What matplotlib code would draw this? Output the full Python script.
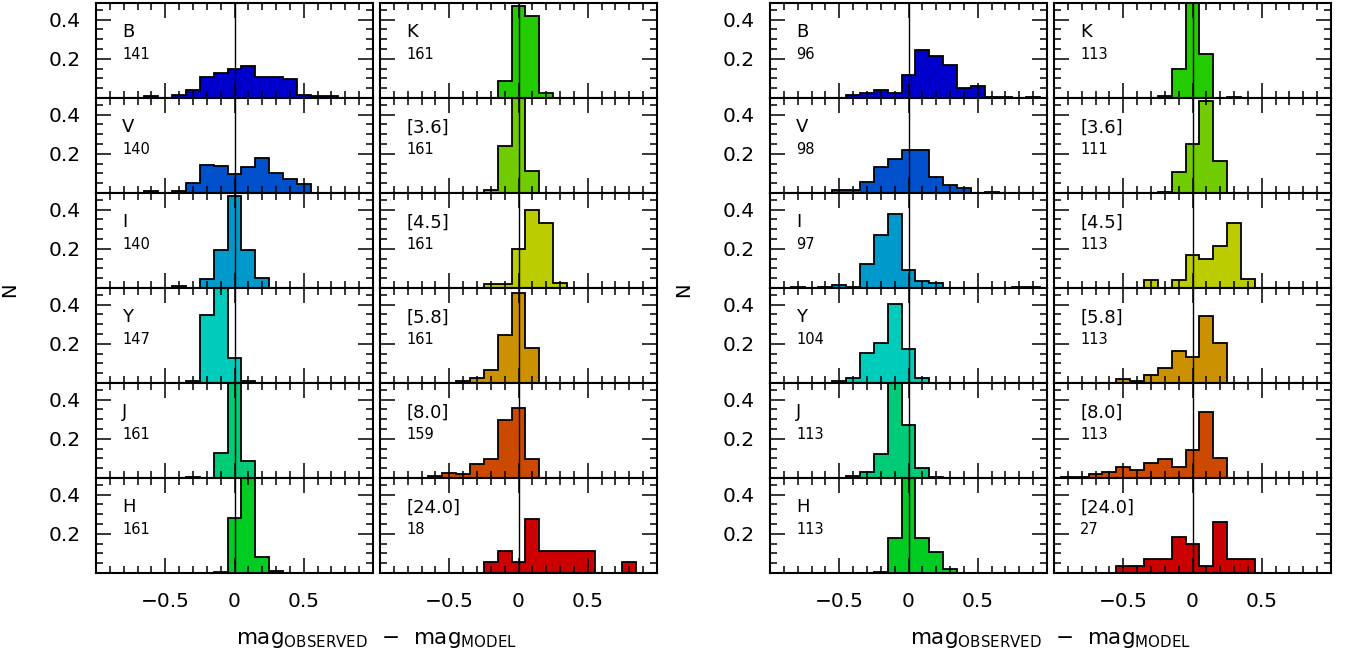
import numpy as np
import matplotlib.pyplot as plt
from matplotlib.ticker import MultipleLocator, FixedLocator, FixedFormatter

plt.rcParams['font.family'] = ['DejaVu Sans']
plt.rcParams['mathtext.fontset'] = 'custom'
plt.rcParams['mathtext.rm'] = 'DejaVu Sans'

# bins of 0.1 mag centred on -0.9 ... 0.9
edges = np.linspace(-0.95, 0.95, 20)

filters_left = ['B', 'V', 'I', 'Y', 'J', 'H']
filters_right = ['K', '[3.6]', '[4.5]', '[5.8]', '[8.0]', '[24.0]']
colors = ['#0000cc', '#0050cc', '#0099cc', '#00ccbb', '#00cc77', '#00cc22',
          '#22cc00', '#70cc00', '#bbcc00', '#cc9100', '#cc4a00', '#cc0000']

# sample 1 (left block): number of stars per filter
n1 = [141, 140, 140, 147, 161, 161, 161, 161, 161, 161, 159, 18]
# sample 2 (right block)
n2 = [96, 98, 97, 104, 113, 113, 113, 111, 113, 113, 113, 27]

# fraction per bin, bins -0.9 .. 0.9
s1_B = [0, 0, 0, .009, 0, .016, .041, .106, .126, .150, .165, .106, .106, .099, .016, .009, .009, 0, 0]
s1_V = [0, 0, 0, .010, 0, .010, .051, .145, .140, .096, .131, .181, .101, .069, .048, 0, 0, 0, 0]
s1_I = [0, 0, 0, 0, 0, .009, 0, .044, .195, .469, .195, .053, 0, 0, 0, 0, 0, 0, 0]
s1_Y = [0, 0, 0, 0, 0, 0, .009, .347, .500, .129, .009, 0, 0, 0, 0, 0, 0, 0, 0]
s1_J = [0, 0, 0, 0, 0, 0, .006, 0, .129, .770, .088, 0, 0, 0, 0, 0, 0, 0, 0]
s1_H = [0, 0, 0, 0, 0, 0, 0, 0, .006, .283, .620, .080, .012, 0, 0, 0, 0, 0, 0]
s1_K = [0, 0, 0, 0, 0, 0, 0, 0, .088, .470, .421, .028, 0, 0, 0, 0, 0, 0, 0]
s1_36 = [0, 0, 0, 0, 0, 0, 0, .014, .239, .620, .110, 0, 0, 0, 0, 0, 0, 0, 0]
s1_45 = [0, 0, 0, 0, 0, 0, 0, .018, .018, .200, .400, .333, .028, 0, 0, 0, 0, 0, 0]
s1_58 = [0, 0, 0, 0, 0, .011, .028, .065, .246, .457, .181, 0, 0, 0, 0, 0, 0, 0, 0]
s1_80 = [0, 0, 0, .009, .028, .018, .073, .097, .294, .359, .097, 0, 0, 0, 0, 0, 0, 0, 0]
s1_240 = [0, 0, 0, 0, 0, 0, 0, .056, .111, .056, .278, .111, .111, .111, .111, 0, 0, .056, 0]

s2_B = [0, 0, 0, 0, 0, .016, .028, .041, .028, .115, .244, .212, .168, .050, .060, .006, .006, 0, .006]
s2_V = [0, 0, 0, 0, .014, .014, .058, .133, .173, .218, .218, .080, .039, .027, 0, .005, 0, 0, 0]
s2_I = [0, .005, 0, .005, .016, .005, .122, .273, .379, .092, .035, .025, 0, 0, 0, 0, 0, .005, .005]
s2_Y = [0, 0, 0, 0, .011, .023, .152, .204, .404, .173, .023, 0, 0, 0, 0, 0, 0, 0, 0]
s2_J = [0, 0, 0, 0, 0, .011, .032, .124, .500, .271, .050, .004, 0, 0, 0, 0, 0, 0, 0]
s2_H = [0, 0, 0, 0, 0, 0, 0, .005, .177, .520, .177, .106, .018, 0, 0, 0, 0, 0, 0]
s2_K = [0, 0, 0, 0, 0, 0, 0, .011, .150, .600, .223, 0, .005, 0, 0, 0, 0, 0, 0]
s2_36 = [0, 0, 0, 0, 0, 0, 0, .005, .106, .248, .470, .161, 0, 0, 0, 0, 0, 0, 0]
s2_45 = [0, 0, 0, 0, 0, 0, .039, 0, .039, .166, .149, .212, .331, .048, 0, 0, 0, 0, 0]
s2_58 = [0, 0, 0, 0, .021, .012, .042, .076, .161, .133, .342, .204, 0, 0, 0, 0, 0, 0, 0]
s2_80 = [.005, .005, .021, .032, .058, .042, .078, .097, .058, .142, .336, .103, 0, 0, 0, 0, 0, 0, 0]
s2_240 = [0, 0, 0, 0, .037, .037, .074, .074, .185, .148, .037, .259, .074, .074, 0, 0, 0, 0, 0]

sample1 = [s1_B, s1_V, s1_I, s1_Y, s1_J, s1_H, s1_K, s1_36, s1_45, s1_58, s1_80, s1_240]
sample2 = [s2_B, s2_V, s2_I, s2_Y, s2_J, s2_H, s2_K, s2_36, s2_45, s2_58, s2_80, s2_240]
names = filters_left + filters_right

W, H = 1361, 662
fig = plt.figure(figsize=(W / 100, H / 100), dpi=100)

col_x = [(96, 373), (380, 657), (770, 1047), (1054, 1331)]
row_top = 3
row_h = 95


def panel(x0, x1, row):
    y0 = row_top + row * row_h
    return fig.add_axes([x0 / W, 1 - (y0 + row_h) / H, (x1 - x0) / W, row_h / H])


def draw(ax, h, color, name, n, first_col, last_row):
    ax.stairs(h, edges, fill=True, facecolor=color, edgecolor='black', linewidth=1.3)
    ax.axvline(0, color='black', lw=1.0, zorder=3)
    ax.set_xlim(-1, 1)
    ax.set_ylim(0, 0.485)
    ax.xaxis.set_major_locator(FixedLocator([-0.5, 0, 0.5]))
    ax.xaxis.set_minor_locator(MultipleLocator(0.1))
    ax.yaxis.set_major_locator(FixedLocator([0.2, 0.4]))
    ax.yaxis.set_minor_locator(MultipleLocator(0.05))
    ax.tick_params(which='both', direction='in', top=True, right=True, width=1.1,
                   labelsize=14.5, colors='black')
    ax.tick_params(which='major', length=10.5)
    ax.tick_params(which='minor', length=5.2)
    ax.tick_params(axis='x', pad=14)
    ax.tick_params(axis='y', pad=11)
    for s in ax.spines.values():
        s.set_linewidth(1.5)
    if last_row:
        ax.xaxis.set_major_formatter(FixedFormatter(['\u22120.5', '0', '0.5']))
    else:
        ax.set_xticklabels([])
    if first_col:
        ax.yaxis.set_major_formatter(FixedFormatter(['0.2', '0.4']))
    else:
        ax.set_yticklabels([])
    ax.text(0.094, 0.69, name, transform=ax.transAxes, fontsize=13, va='center', ha='left')
    ax.text(0.094, 0.46, str(n), transform=ax.transAxes, fontsize=10.5, va='center', ha='left')


for g, (data, counts) in enumerate([(sample1, n1), (sample2, n2)]):
    for c in range(2):
        x0, x1 = col_x[2 * g + c]
        for r in range(6):
            k = 6 * c + r
            ax = panel(x0, x1, r)
            draw(ax, data[k], colors[k], names[k], counts[k], c == 0, r == 5)
    gx0 = col_x[2 * g][0]
    gx1 = col_x[2 * g + 1][1]
    fig.text((gx0 + gx1) / 2 / W, 1 - 640 / H,
             r'mag$_{\mathrm{OBSERVED}}$  $-$  mag$_{\mathrm{MODEL}}$',
             ha='center', va='center', fontsize=15.5)
    fig.text((gx0 - 86) / W, 1 - 290 / H, 'N', rotation=90,
             ha='center', va='center', fontsize=14)

fig.savefig('out.png', dpi=100)
